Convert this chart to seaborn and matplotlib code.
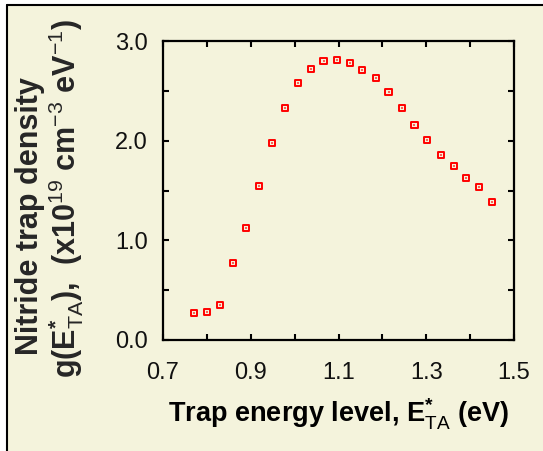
import matplotlib
matplotlib.use("Agg")
import matplotlib.pyplot as plt
from matplotlib.patches import Rectangle
from matplotlib.lines import Line2D
import seaborn as sns
import pandas as pd

# trap energy level E*_TA (eV) and density (x1e19 cm^-3 eV^-1)
energy = [0.771, 0.801, 0.830, 0.860, 0.889, 0.918, 0.949, 0.978, 1.007, 1.037,
          1.066, 1.096, 1.126, 1.154, 1.185, 1.214, 1.244, 1.273, 1.302, 1.333,
          1.363, 1.391, 1.421, 1.450]
density = [0.274, 0.278, 0.355, 0.769, 1.127, 1.548, 1.980, 2.324, 2.582, 2.716,
           2.803, 2.806, 2.783, 2.709, 2.625, 2.485, 2.324, 2.161, 2.003, 1.856,
           1.742, 1.625, 1.535, 1.388]

x_ticks = [0.7, 0.9, 1.1, 1.3, 1.5]
y_ticks = [0.0, 1.0, 2.0, 3.0]

BG = "#F4F3DC"
RED = "#FF0000"

sns.set_theme(style="white")
plt.rcParams["font.family"] = ["Liberation Sans", "DejaVu Sans"]
plt.rcParams.update({
    "mathtext.fontset": "custom",
    "mathtext.rm": "Liberation Sans:bold",
    "mathtext.it": "Liberation Sans:bold",
    "mathtext.bf": "Liberation Sans:bold",
    "mathtext.sf": "Liberation Sans",
    "mathtext.default": "rm",
})

W, H = 543, 451
fig = plt.figure(figsize=(W / 100, H / 100), dpi=100, facecolor="white")

# beige panel with black border on left/top
fig.patches.append(Rectangle((7 / W, 0), 1, 1 - 5 / H, transform=fig.transFigure,
                             facecolor=BG, edgecolor="none", zorder=-10))
fig.lines.append(Line2D([7 / W, 7 / W], [0, 1 - 5 / H], transform=fig.transFigure,
                        color="black", lw=1.5))
fig.lines.append(Line2D([7 / W, 1], [1 - 5 / H, 1 - 5 / H], transform=fig.transFigure,
                        color="black", lw=1.5))

ax = fig.add_axes([163 / W, 1 - 340 / H, 351 / W, 299 / H])
ax.set_facecolor(BG)

df = pd.DataFrame({"energy": energy, "density": density})
sns.scatterplot(data=df, x="energy", y="density", ax=ax, marker="s", s=20,
                facecolors="none", edgecolors=RED, linewidths=1.4, zorder=3)
sns.scatterplot(data=df, x="energy", y="density", ax=ax, marker="s", s=1.5,
                color=RED, linewidth=0, alpha=0.6, zorder=4)

ax.set_xlim(0.7, 1.5)
ax.set_ylim(0.0, 3.0)
ax.set_xticks(x_ticks)
ax.set_xticklabels([f"{v:.1f}" for v in x_ticks])
ax.set_xticks([0.8, 1.0, 1.2, 1.4], minor=True)
ax.set_yticks(y_ticks)
ax.set_yticklabels([f"{v:.1f}" for v in y_ticks])
ax.set_yticks([0.5, 1.5, 2.5], minor=True)

for s in ax.spines.values():
    s.set_visible(True)
    s.set_color("black")
    s.set_linewidth(1.6)

ax.tick_params(which="both", direction="in", top=True, right=True,
               bottom=True, left=True, length=4, width=1.5, color="black")
ax.tick_params(which="major", labelsize=17, labelcolor="#111111")
ax.tick_params(axis="x", which="major", pad=16)
ax.tick_params(axis="y", which="major", pad=11)
ax.tick_params(which="minor", length=4)

ax.set_xlabel(r"Trap energy level, $E^{*}_{\mathsf{TA}}$ (eV)", fontsize=19.5,
              fontweight="bold", labelpad=9, color="black")
ax.set_ylabel("")

fig.text(30 / W, 1 - 216 / H, "Nitride trap density", rotation=90,
         ha="center", va="center", fontsize=22, fontweight="bold")
fig.text(66 / W, 1 - 198 / H,
         r"g($E^{*}_{\mathsf{TA}}$),  (x10$^{\mathsf{19}}$ cm$^{\mathsf{-3}}$ eV$^{\mathsf{-1}}$)",
         rotation=90, ha="center", va="center", fontsize=22, fontweight="bold")

fig.savefig("out.png", dpi=100, facecolor=fig.get_facecolor())
